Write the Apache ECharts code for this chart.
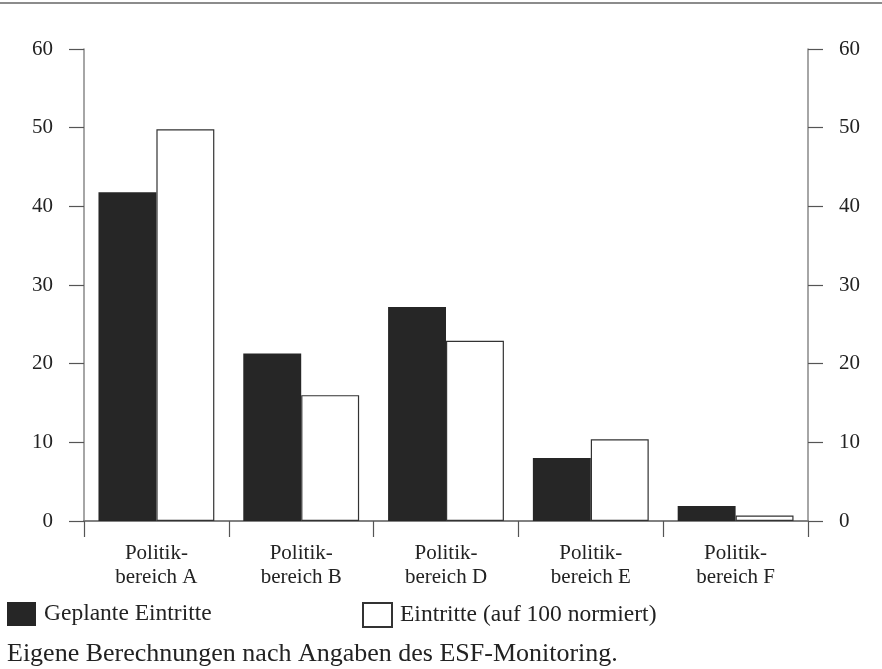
<!DOCTYPE html>
<html><head><meta charset="utf-8">
<script src="https://cdn.jsdelivr.net/npm/echarts@6/dist/echarts.min.js"></script>
<style>html,body{margin:0;padding:0;background:#fff}#c{width:882px;height:669px}</style>
</head><body><div id="c"></div>
<script>
const categories = ['Politik-\nbereich A','Politik-\nbereich B','Politik-\nbereich D','Politik-\nbereich E','Politik-\nbereich F'];
const geplant = [41.8, 21.3, 27.2, 8.0, 1.9];
const eintritte = [49.8, 16.0, 22.9, 10.4, 0.7];
const seriesNames = ['Geplante Eintritte', 'Eintritte (auf 100 normiert)'];
const caption = 'Eigene Berechnungen nach Angaben des ESF-Monitoring.';

const font = 'Liberation Serif';
const chart = echarts.init(document.getElementById('c'));
const yAxisCommon = {
  type: 'value', min: 0, max: 60, interval: 10,
  axisLine: {show: true, lineStyle: {color: '#888', width: 1.5}},
  axisTick: {show: true, inside: false, length: 15, lineStyle: {color: '#555', width: 1.2}},
  splitLine: {show: false},
  axisLabel: {fontFamily: font, fontSize: 21, color: '#222', margin: 31}
};
const legendText = {fontFamily: font, fontSize: 23.5, color: '#222', padding: [0, 0, 0, 3]};
chart.setOption({
  animation: false,
  grid: {left: 84, right: 74, top: 49, bottom: 148, containLabel: false},
  graphic: [{type: 'line', shape: {x1: 0, y1: 3, x2: 882, y2: 3}, style: {stroke: '#666', lineWidth: 1.5}}],
  title: {text: caption, left: 2, top: 636, textStyle: {fontFamily: font, fontSize: 26, fontWeight: 'normal', color: '#222'}},
  legend: [
    {data: [seriesNames[0]], left: 2, top: 597, itemWidth: 29, itemHeight: 24, icon: 'rect', textStyle: legendText},
    {data: [seriesNames[1]], left: 357, top: 597, itemWidth: 29, itemHeight: 24, icon: 'rect', textStyle: legendText}
  ],
  xAxis: [
    {type: 'category', data: categories, position: 'bottom',
     axisLine: {show: true, lineStyle: {color: '#444', width: 1.5}},
     axisTick: {show: true, length: 16, alignWithLabel: false, lineStyle: {color: '#555', width: 1.2}},
     axisLabel: {fontFamily: font, fontSize: 21, color: '#222', lineHeight: 24, margin: 20, interval: 0}},
    {type: 'category', data: categories, position: 'top',
     axisLine: {show: true, lineStyle: {color: '#888', width: 1.5}},
     axisTick: {show: false}, axisLabel: {show: false}}
  ],
  yAxis: [
    Object.assign({position: 'left'}, yAxisCommon),
    Object.assign({position: 'right'}, yAxisCommon)
  ],
  series: [
    {name: seriesNames[0], type: 'bar', data: geplant, barGap: '0%', barCategoryGap: '20%',
     itemStyle: {color: '#262626', borderColor: '#262626', borderWidth: 0}},
    {name: seriesNames[1], type: 'bar', data: eintritte,
     itemStyle: {color: '#ffffff', borderColor: '#333', borderWidth: 1.2}}
  ]
});
</script></body></html>
